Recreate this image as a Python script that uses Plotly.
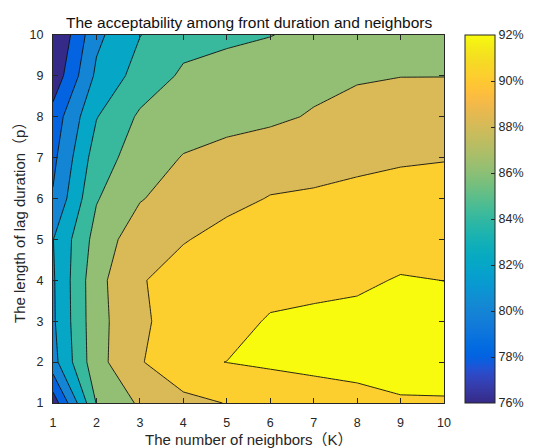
import plotly.graph_objects as go

# ---------------- data ----------------
K_values = [1, 2, 3, 4, 5, 6, 7, 8, 9, 10]          # number of neighbors
p_values = [1, 2, 3, 4, 5, 6, 7, 8, 9, 10]          # length of lag duration

# acceptability (%) ; one list per p (row), values along K
acc_p1 = [76.8, 86.1, 88.28, 89.37, 90.07, 90.8, 91.1, 91.4, 91.8, 91.85]
acc_p2 = [81.3, 87.33, 89.81, 91.7, 92.02, 92.25, 92.46, 92.62, 92.8, 92.73]
acc_p3 = [81.7, 87.35, 89.55, 91.2, 91.2, 92.2, 92.3, 92.4, 92.6, 92.5]
acc_p4 = [81.77, 87.4, 89.8, 91.05, 91.2, 91.25, 91.6, 91.75, 92.1, 91.99]
acc_p5 = [81.95, 86.76, 89.24, 89.85, 90.73, 90.9, 91.0, 91.2, 91.4, 91.3]
acc_p6 = [80.2, 85.86, 87.86, 89.0, 89.4, 90.1, 90.3, 90.6, 90.8, 90.6]
acc_p7 = [79.5, 85.0, 87.0, 88.1, 88.7, 88.99, 89.15, 89.47, 89.76, 89.93]
acc_p8 = [78.8, 83.91, 86.3, 87.1, 87.3, 87.67, 88.15, 88.6, 88.9, 89.1]
acc_p9 = [76.6, 82.4, 84.8, 86.3, 86.6, 87.0, 87.52, 87.83, 87.97, 87.97]
acc_p10 = [75.6, 81.53, 83.95, 85.33, 85.7, 85.95, 86.45, 87.2, 87.5, 87.6]
acceptability = [acc_p1, acc_p2, acc_p3, acc_p4, acc_p5,
                 acc_p6, acc_p7, acc_p8, acc_p9, acc_p10]

colorbar_ticks = [76, 78, 80, 82, 84, 86, 88, 90, 92]
colorbar_labels = ["76%", "78%", "80%", "82%", "84%", "86%", "88%", "90%", "92%"]

# ---------------- parula colormap ----------------
parula = [
    (0.2081, 0.1663, 0.5292), (0.2116, 0.1898, 0.5777), (0.2123, 0.2138, 0.6270),
    (0.2081, 0.2386, 0.6771), (0.1959, 0.2645, 0.7279), (0.1707, 0.2919, 0.7792),
    (0.1253, 0.3242, 0.8303), (0.0591, 0.3598, 0.8683), (0.0117, 0.3875, 0.8820),
    (0.0060, 0.4086, 0.8828), (0.0165, 0.4266, 0.8786), (0.0329, 0.4430, 0.8720),
    (0.0498, 0.4586, 0.8641), (0.0629, 0.4737, 0.8554), (0.0723, 0.4887, 0.8467),
    (0.0779, 0.5040, 0.8384), (0.0793, 0.5200, 0.8312), (0.0749, 0.5375, 0.8263),
    (0.0641, 0.5570, 0.8240), (0.0488, 0.5772, 0.8228), (0.0343, 0.5966, 0.8199),
    (0.0265, 0.6137, 0.8135), (0.0239, 0.6287, 0.8038), (0.0231, 0.6418, 0.7913),
    (0.0228, 0.6535, 0.7768), (0.0267, 0.6642, 0.7607), (0.0384, 0.6743, 0.7436),
    (0.0590, 0.6838, 0.7254), (0.0843, 0.6928, 0.7062), (0.1133, 0.7015, 0.6859),
    (0.1453, 0.7098, 0.6646), (0.1801, 0.7177, 0.6424), (0.2178, 0.7250, 0.6193),
    (0.2586, 0.7317, 0.5954), (0.3022, 0.7376, 0.5712), (0.3482, 0.7424, 0.5473),
    (0.3953, 0.7459, 0.5244), (0.4420, 0.7481, 0.5033), (0.4871, 0.7491, 0.4840),
    (0.5300, 0.7491, 0.4661), (0.5709, 0.7485, 0.4494), (0.6099, 0.7473, 0.4337),
    (0.6473, 0.7456, 0.4188), (0.6834, 0.7435, 0.4044), (0.7184, 0.7411, 0.3905),
    (0.7525, 0.7384, 0.3768), (0.7858, 0.7356, 0.3633), (0.8185, 0.7327, 0.3498),
    (0.8507, 0.7299, 0.3360), (0.8824, 0.7274, 0.3217), (0.9139, 0.7258, 0.3063),
    (0.9450, 0.7261, 0.2886), (0.9739, 0.7314, 0.2666), (0.9938, 0.7455, 0.2403),
    (0.9990, 0.7653, 0.2164), (0.9955, 0.7861, 0.1967), (0.9880, 0.8066, 0.1794),
    (0.9789, 0.8271, 0.1633), (0.9697, 0.8481, 0.1475), (0.9626, 0.8705, 0.1309),
    (0.9589, 0.8949, 0.1132), (0.9598, 0.9218, 0.0948), (0.9661, 0.9514, 0.0755),
    (0.9763, 0.9831, 0.0538),
]


def rgb(c):
    return "rgb(%d,%d,%d)" % tuple(round(v * 255) for v in c)


band_idx = [0, 8, 16, 24, 32, 40, 48, 56, 63]
band_scale = [[i / 8, rgb(parula[j])] for i, j in enumerate(band_idx)]
cont_scale = [[i / 63, rgb(c)] for i, c in enumerate(parula)]

FONT = "Liberation Sans, Arial, Noto Sans CJK SC, sans-serif"
TXT = "#262626"

fig = go.Figure()
fig.add_trace(go.Contour(
    x=K_values, y=p_values, z=acceptability,
    autocontour=False,
    contours=dict(start=78, end=92, size=2, coloring="fill", showlines=True),
    line=dict(color="#111111", width=0.9, smoothing=0),
    colorscale=band_scale, showscale=False, hoverinfo="skip",
))

# continuous colorbar (76%..92%)
fig.add_trace(go.Scatter(
    x=[5], y=[5], mode="markers", hoverinfo="skip", showlegend=False,
    marker=dict(size=1, opacity=0, color=[84], colorscale=cont_scale,
                cmin=76, cmax=92, showscale=True,
                colorbar=dict(
                    x=(480 - 53) / 405, xanchor="left", xpad=0,
                    y=0.5, yanchor="middle", ypad=0,
                    len=1, lenmode="fraction",
                    thickness=30, thicknessmode="pixels",
                    outlinewidth=1, outlinecolor=TXT,
                    tickmode="array", tickvals=colorbar_ticks, ticktext=colorbar_labels,
                    ticks="inside", ticklen=4, tickcolor=TXT,
                    tickfont=dict(family=FONT, size=12.5, color=TXT),
                )),
))

axis_common = dict(
    ticks="inside", ticklen=5, tickcolor=TXT, tickwidth=1,
    showline=True, linecolor=TXT, linewidth=1, mirror="ticks",
    showgrid=False, zeroline=False,
    tickfont=dict(family=FONT, size=12.5, color=TXT),
)
fig.update_xaxes(range=[1, 10], tickvals=K_values, ticklabelstandoff=8, **axis_common)
fig.update_yaxes(range=[1, 10], tickvals=p_values, ticklabelstandoff=6, **axis_common)

fig.update_layout(
    width=541, height=448,
    margin=dict(l=53, r=83, t=35, b=45, pad=0),
    paper_bgcolor="white", plot_bgcolor="white",
    showlegend=False,
    font=dict(family=FONT, color=TXT),
    annotations=[
        dict(text="The acceptability among front duration and neighbors",
             xref="paper", yref="paper", x=0.5, y=1, xanchor="center", yanchor="middle",
             yshift=13, showarrow=False, font=dict(family=FONT, size=15.5, color="#111111")),
        dict(text="The number of neighbors（K）",
             xref="paper", yref="paper", x=0.5, y=0, xanchor="center", yanchor="middle",
             yshift=-36, showarrow=False, font=dict(family=FONT, size=15, color=TXT)),
        dict(text="The length of lag duration（p）",
             xref="paper", yref="paper", x=0, y=0.5, xanchor="center", yanchor="middle",
             xshift=-34, textangle=-90, showarrow=False,
             font=dict(family=FONT, size=15, color=TXT)),
    ],
)

fig.write_html("out.html")
